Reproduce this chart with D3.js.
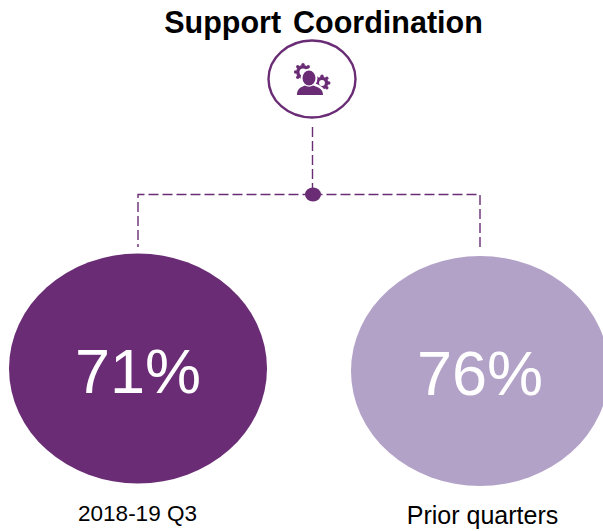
<!DOCTYPE html>
<html lang="en">
<head>
<meta charset="utf-8">
<title>Support Coordination</title>
<script src="https://cdn.jsdelivr.net/npm/d3@7"></script>
<style>
  html, body { margin: 0; padding: 0; background: #fff; }
  svg { display: block; }
  text { font-family: "Liberation Sans", Arial, sans-serif; }
</style>
</head>
<body>
<script>
// data
var title = "Support Coordination";
var categories = ["2018-19 Q3", "Prior quarters"];
var values = [71, 76];
var colors = ["#6a2c75", "#b3a2c8"];

var width = 603, height = 531;

var svg = d3.select("body").append("svg")
    .attr("width", width)
    .attr("height", height);

var x = d3.scalePoint().domain(categories).range([138, 480]);
var purple = colors[0];
var midX = 312.5;

// title
svg.append("text")
    .attr("x", 323.5).attr("y", 33)
    .attr("text-anchor", "middle")
    .attr("font-size", 30.5)
    .attr("font-weight", "bold")
    .attr("word-spacing", 3.5)
    .attr("fill", "#000")
    .text(title);

// dashed connectors
var dashes = svg.append("g")
    .attr("fill", "none")
    .attr("stroke", purple)
    .attr("stroke-width", 1.4)
    .attr("stroke-dasharray", "10 4");

dashes.append("path").attr("d", "M" + midX + ",127V192");
dashes.append("path").attr("d", "M" + midX + ",194.5H" + x(categories[0]) + "V247");
dashes.append("path").attr("d", "M" + midX + ",194.5H" + x(categories[1]) + "V247");

svg.append("ellipse")
    .attr("cx", midX + 0.5).attr("cy", 194.5)
    .attr("rx", 8).attr("ry", 7)
    .attr("fill", purple);

// icon badge
svg.append("ellipse")
    .attr("cx", 312).attr("cy", 79)
    .attr("rx", 43.5).attr("ry", 38.5)
    .attr("fill", "#fff")
    .attr("stroke", purple)
    .attr("stroke-width", 2.4);

var icon = svg.append("g").attr("fill", purple);

function gear(cx, cy, r) {
    var g = icon.append("g");
    g.append("circle")
        .attr("cx", cx).attr("cy", cy).attr("r", r)
        .attr("fill", "none").attr("stroke", purple).attr("stroke-width", 3.4);
    d3.range(8).forEach(function(i) {
        var a = i * Math.PI / 4;
        g.append("circle")
            .attr("cx", cx + Math.cos(a) * (r + 2.2))
            .attr("cy", cy + Math.sin(a) * (r + 2.2))
            .attr("r", 1.7);
    });
}

gear(303, 72, 5.2);
gear(322, 83, 4.6);

// white halo round the head so the gears look cut
icon.append("ellipse")
    .attr("cx", 309).attr("cy", 78).attr("rx", 8.5).attr("ry", 9.5)
    .attr("fill", "#fff");
icon.append("path")
    .attr("d", "M295,96 C295,88 301,86 305,84 L314,84 C319,86 325,88 325,96 Z")
    .attr("fill", "#fff")
    .attr("stroke", "#fff")
    .attr("stroke-width", 2);
icon.append("ellipse")
    .attr("cx", 309).attr("cy", 78).attr("rx", 6.5).attr("ry", 7.6);
icon.append("path")
    .attr("d", "M297,95 C297,89 300,87.5 305,85.5 C307,87 311,87 313,85.5 C319,87.5 323,89 323,95 Z");

// value ellipses
var cyByCat = d3.scaleOrdinal().domain(categories).range([368.5, 371]);
var labelY = d3.scaleOrdinal().domain(categories).range([521, 524]);

var groups = svg.selectAll("g.value")
    .data(categories)
    .enter().append("g")
    .attr("class", "value");

groups.append("ellipse")
    .attr("cx", function(d) { return x(d); })
    .attr("cy", function(d) { return cyByCat(d); })
    .attr("rx", 129).attr("ry", 115)
    .attr("fill", function(d, i) { return colors[i]; });

groups.append("text")
    .attr("x", function(d) { return x(d); })
    .attr("y", function(d) { return cyByCat(d) + 24; })
    .attr("text-anchor", "middle")
    .attr("font-size", 63)
    .attr("fill", "#fff")
    .text(function(d, i) { return values[i] + "%"; });

groups.append("text")
    .attr("x", function(d, i) { return i == 0 ? x(d) - 0.5 : x(d) + 2.5; })
    .attr("y", function(d) { return labelY(d); })
    .attr("text-anchor", "middle")
    .attr("font-size", function(d, i) { return i == 0 ? 22.5 : 25; })
    .attr("fill", "#000")
    .text(function(d) { return d; });
</script>
</body>
</html>
